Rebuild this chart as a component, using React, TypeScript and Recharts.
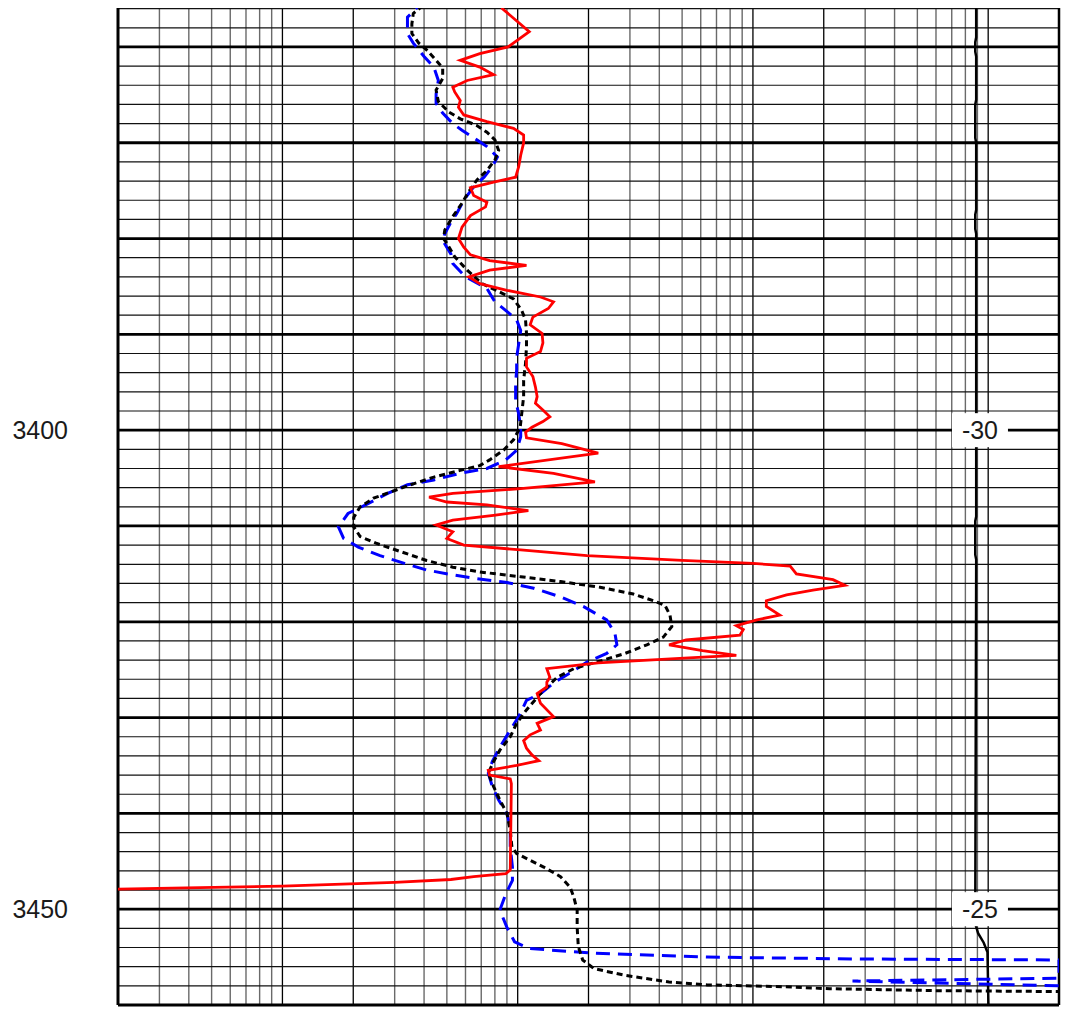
import { ScatterChart, Scatter, XAxis, YAxis, ReferenceLine, ReferenceDot } from 'recharts';

// depth (ft) / resistivity (ohm.m) pairs
const shallowRes: [number, number][] = [
  [3355.1, 8.9], [3356.0, 8.6], [3358.4, 11.2], [3360.0, 9.1], [3360.7, 6.9], [3361.4, 5.7],
  [3362.1, 6.9], [3362.9, 7.9], [3363.5, 6.1], [3364.2, 5.3], [3364.7, 5.4], [3365.6, 5.7],
  [3366.3, 5.6], [3367.1, 5.9], [3367.8, 7.4], [3368.5, 9.6], [3369.2, 10.6], [3370.0, 10.6],
  [3371.3, 10.3], [3372.5, 10.1], [3373.6, 9.8], [3374.1, 7.9], [3374.7, 6.3], [3375.5, 6.5],
  [3376.2, 7.4], [3376.7, 7.3], [3377.6, 6.3], [3378.8, 5.8], [3380.0, 5.6], [3380.9, 5.9],
  [3381.7, 6.3], [3382.3, 7.6], [3382.8, 10.9], [3383.3, 7.6], [3384.0, 6.2], [3384.7, 6.9],
  [3385.4, 9.0], [3386.1, 12.5], [3386.6, 14.2], [3387.3, 13.5], [3388.2, 11.6], [3389.0, 11.3],
  [3389.9, 12.7], [3390.9, 12.8], [3391.8, 12.5], [3392.5, 10.9], [3393.4, 10.9], [3394.4, 11.6],
  [3395.5, 11.9], [3396.5, 12.1], [3397.2, 11.9], [3397.9, 12.8], [3398.6, 13.7], [3399.1, 12.8],
  [3399.7, 11.5], [3400.2, 10.8], [3400.8, 10.9], [3401.4, 15.4], [3402.4, 22.0], [3403.8, 8.3],
  [3404.5, 14.2], [3405.4, 21.3], [3406.1, 10.3], [3406.6, 5.3], [3407.0, 4.2], [3407.5, 5.0],
  [3407.8, 7.4], [3408.4, 11.1], [3408.9, 7.9], [3409.4, 5.3], [3409.9, 4.5], [3410.6, 5.3],
  [3411.3, 5.0], [3412.0, 5.9], [3412.5, 10.3], [3413.1, 19.7], [3413.6, 50], [3413.9, 100],
  [3414.2, 144], [3415.0, 153], [3415.6, 219], [3416.2, 246], [3416.7, 180], [3417.2, 139],
  [3417.8, 114], [3418.4, 114], [3419.3, 130], [3419.8, 104], [3420.4, 85], [3420.8, 91],
  [3421.4, 88], [3421.9, 52], [3422.4, 44], [3423.0, 61], [3423.5, 85], [3423.8, 51],
  [3424.3, 22], [3424.9, 13.3], [3425.8, 13.7], [3426.3, 13.3], [3426.8, 13.3], [3427.5, 12.1],
  [3428.5, 12.5], [3429.9, 14.2], [3430.6, 12.1], [3431.3, 12.5], [3431.8, 11.3], [3432.4, 10.6],
  [3433.2, 10.9], [3433.9, 11.5], [3434.5, 12.3], [3435.0, 9.9], [3435.5, 7.5], [3436.0, 7.6],
  [3436.4, 9.3], [3436.9, 9.4], [3445.9, 9.3], [3446.3, 8.9], [3446.6, 6.5], [3446.9, 5.2],
  [3447.2, 3.0], [3447.6, 1.0], [3447.8, 0.34], [3447.9, 0.2],
];

const deepRes: [number, number][] = [
  [3355.1, 4.1], [3356.0, 3.7], [3356.9, 3.4], [3358.6, 3.4], [3359.6, 3.6], [3361.0, 4.0],
  [3362.1, 4.4], [3363.5, 4.6], [3364.9, 4.5], [3365.9, 4.5], [3366.9, 4.8], [3368.0, 5.3],
  [3368.7, 5.8], [3369.7, 6.7], [3370.4, 7.4], [3371.5, 8.2], [3372.5, 7.8], [3373.6, 7.2],
  [3374.4, 6.6], [3376.0, 5.9], [3377.4, 5.5], [3378.3, 5.2], [3379.5, 4.9], [3380.2, 4.8],
  [3381.6, 5.2], [3382.6, 5.3], [3384.0, 6.0], [3385.2, 7.4], [3386.6, 8.0], [3387.7, 9.1],
  [3388.5, 9.9], [3389.6, 10.3], [3391.0, 10.1], [3392.4, 9.9], [3393.7, 9.9], [3395.1, 9.8],
  [3396.9, 9.8], [3398.3, 10.1], [3399.7, 10.3], [3400.7, 10.3], [3402.1, 9.9], [3403.1, 8.9],
  [3404.0, 7.4], [3404.5, 5.7], [3405.2, 4.4], [3405.7, 3.4], [3406.6, 2.8], [3407.7, 2.3],
  [3408.7, 1.9], [3410.1, 1.73], [3411.3, 1.82], [3412.2, 2.1], [3413.1, 2.6], [3413.9, 3.3],
  [3414.6, 4.1], [3415.1, 5.3], [3415.5, 6.7], [3415.9, 9.0], [3416.5, 11.7], [3417.4, 15.2],
  [3418.4, 19.0], [3419.8, 23.9], [3421.2, 25.9], [3422.4, 26.4], [3423.3, 23.9], [3424.2, 19.7],
  [3425.1, 17.3], [3426.4, 14.2], [3427.5, 12.5], [3428.2, 10.9], [3429.9, 10.1], [3431.3, 9.3],
  [3433.1, 8.4], [3434.6, 7.8], [3435.8, 7.5], [3437.2, 7.8], [3438.6, 8.3], [3440.0, 9.0],
  [3441.4, 9.3], [3443.5, 9.3], [3445.6, 9.5], [3447.0, 9.5], [3448.4, 8.9], [3450.1, 8.4],
  [3451.9, 9.0], [3453.4, 9.7], [3454.1, 11.2], [3454.6, 21], [3455.0, 64], [3455.2, 285],
  [3455.3, 2000], [3457.2, 2000], [3457.5, 265], [3458.0, 2000],
];

const mediumRes: [number, number][] = [
  [3355.1, 4.3], [3355.8, 3.9], [3356.5, 3.6], [3357.6, 3.55], [3358.6, 3.55], [3359.6, 3.8],
  [3360.3, 4.1], [3361.4, 4.5], [3362.2, 4.8], [3363.3, 4.8], [3364.5, 4.5], [3365.7, 4.6],
  [3366.8, 5.1], [3367.5, 5.7], [3368.2, 6.7], [3368.9, 7.4], [3369.7, 8.0], [3370.8, 8.3],
  [3371.8, 8.0], [3372.9, 7.4], [3373.9, 6.7], [3375.1, 6.2], [3376.3, 5.8], [3377.7, 5.3],
  [3379.1, 4.9], [3380.0, 4.84], [3380.5, 5.0], [3381.9, 5.4], [3383.3, 6.1], [3384.7, 7.05],
  [3385.6, 8.4], [3386.3, 9.6], [3387.5, 10.4], [3388.5, 10.8], [3389.9, 10.9], [3391.3, 10.9],
  [3393.0, 10.8], [3394.8, 10.6], [3396.5, 10.6], [3398.3, 10.4], [3399.7, 10.25], [3401.0, 9.6],
  [3402.1, 8.7], [3403.1, 7.6], [3403.7, 6.9], [3404.2, 5.7], [3404.9, 4.4], [3405.6, 3.6],
  [3406.3, 3.0], [3407.1, 2.44], [3408.0, 2.14], [3409.1, 2.01], [3410.1, 2.01], [3411.1, 2.14],
  [3411.8, 2.5], [3412.7, 3.2], [3413.6, 4.1], [3414.3, 5.3], [3414.8, 6.9], [3415.3, 10.3],
  [3415.8, 15.2], [3416.4, 22.4], [3417.1, 31], [3417.8, 37.7], [3418.3, 42.3], [3419.3, 44.4],
  [3420.5, 45.2], [3421.6, 41.6], [3422.4, 35.4], [3423.3, 28.6], [3424.0, 23.1], [3424.9, 17.3],
  [3425.8, 14.7], [3427.5, 12.5], [3429.2, 10.9], [3430.6, 9.9], [3432.0, 9.3], [3433.4, 8.4],
  [3434.6, 7.9], [3435.8, 7.5], [3437.2, 7.9], [3438.6, 8.4], [3440.0, 9.0], [3441.8, 9.3],
  [3443.5, 9.45], [3444.2, 9.9], [3444.9, 11.3], [3445.6, 12.9], [3446.6, 15.2], [3447.7, 16.7],
  [3448.7, 17.3], [3450.1, 17.9], [3451.9, 17.9], [3453.9, 18.1], [3455.3, 18.9], [3456.2, 21.1],
  [3456.9, 28.5], [3457.6, 44], [3457.9, 64], [3458.1, 136], [3458.3, 212], [3458.5, 600],
  [3458.6, 2000],
];

// spontaneous potential (mV)
const spCurve: [number, number][] = [
  [3355.1, -28.8], [3359.0, -28.8], [3359.5, -28.9], [3360.5, -28.9], [3361.0, -28.8],
  [3365.5, -28.8], [3366.0, -28.9], [3369.5, -28.9], [3370.0, -28.8], [3377.0, -28.8],
  [3377.5, -28.9], [3379.0, -28.9], [3379.5, -28.8], [3409.0, -28.8], [3409.5, -28.9],
  [3413.0, -28.9], [3413.5, -28.8], [3451.5, -28.9], [3452.5, -28.6], [3453.5, -28.0],
  [3454.5, -27.6], [3460.0, -27.5],
];

const spLabels = [
  { depth: 3400, sp: -28.4, text: '-30' },
  { depth: 3450, sp: -28.4, text: '-25' },
];

const depthTicks = [3400, 3450];
const depthMajorGrid = [3360, 3370, 3380, 3390, 3400, 3410, 3420, 3430, 3440, 3450];
const depthMinorGrid = [
  3356, 3358, 3362, 3364, 3366, 3368, 3372, 3374, 3376, 3378, 3382, 3384, 3386, 3388,
  3392, 3394, 3396, 3398, 3402, 3404, 3406, 3408, 3412, 3414, 3416, 3418, 3422, 3424,
  3426, 3428, 3432, 3434, 3436, 3438, 3442, 3444, 3446, 3448, 3452, 3454, 3456, 3458,
];
const resMajorGrid = [1, 2, 10, 20, 100, 200, 1000];
const resMinorGrid = [
  0.3, 0.4, 0.5, 0.6, 0.7, 0.8, 0.9, 3, 4, 5, 6, 7, 8, 9,
  30, 40, 50, 60, 70, 80, 90, 300, 400, 500, 600, 700, 800, 900,
];

const toPoints = (rows: [number, number][]) => rows.map(([d, v]) => ({ d, v }));

const noDot = () => <g />;

const DepthTick = ({ y, payload }: any) => (
  <text x={68} y={y} dy={9} textAnchor="end" fontSize={25} fill="#1a1a1a"
    fontFamily="'Liberation Sans', Arial, sans-serif">
    {payload.value}
  </text>
);

const SpLabel = (text: string) => ({ cx, cy }: any) => (
  <g>
    <rect x={cx - 28} y={cy - 17} width={56} height={34} fill="#fff" />
    <text x={cx} y={cy + 9} textAnchor="middle" fontSize={25} fill="#1a1a1a"
      fontFamily="'Liberation Sans', Arial, sans-serif">
      {text}
    </text>
  </g>
);

export default function App() {
  return (
    <div style={{ margin: '-8px 0 0 -8px', width: 1076, height: 1009 }}>
      <ScatterChart width={1076} height={1009} margin={{ top: 0, right: 17, bottom: 4, left: 0 }}>
        <XAxis xAxisId="res" type="number" dataKey="v" scale="log" domain={[0.2, 2000]} allowDataOverflow hide />
        <XAxis xAxisId="sp" type="number" dataKey="v" domain={[-120, -20]} allowDataOverflow hide />
        <YAxis type="number" dataKey="d" domain={[3355.1, 3460]} reversed allowDataOverflow
          ticks={depthTicks} width={118} axisLine={false} tickLine={false} tick={<DepthTick />} />

        {resMinorGrid.map((v) => (
          <ReferenceLine key={'vm' + v} xAxisId="res" x={v} stroke="#6a6a6a" strokeWidth={1.4} />
        ))}
        {resMajorGrid.map((v) => (
          <ReferenceLine key={'vM' + v} xAxisId="res" x={v} stroke="#000" strokeWidth={1.3} />
        ))}
        {depthMinorGrid.map((d) => (
          <ReferenceLine key={'hm' + d} xAxisId="res" y={d} stroke="#111" strokeWidth={1.2} />
        ))}
        {depthMajorGrid.map((d) => (
          <ReferenceLine key={'hM' + d} xAxisId="res" y={d} stroke="#000" strokeWidth={2.8} />
        ))}
        <ReferenceLine xAxisId="res" x={0.2} stroke="#000" strokeWidth={3} />
        <ReferenceLine xAxisId="res" x={2000} stroke="#000" strokeWidth={2.5} />
        <ReferenceLine xAxisId="res" y={3460} stroke="#000" strokeWidth={3} />

        <Scatter xAxisId="sp" data={toPoints(spCurve)} shape={noDot} fill="#000"
          line={{ stroke: '#000', strokeWidth: 2.5 }} isAnimationActive={false} />
        <Scatter xAxisId="res" data={toPoints(deepRes)} shape={noDot} fill="#0000ff"
          line={{ stroke: '#0000ff', strokeWidth: 3, strokeDasharray: '14 8' }} isAnimationActive={false} />
        <Scatter xAxisId="res" data={toPoints(mediumRes)} shape={noDot} fill="#000"
          line={{ stroke: '#000', strokeWidth: 3, strokeDasharray: '6 4' }} isAnimationActive={false} />
        <Scatter xAxisId="res" data={toPoints(shallowRes)} shape={noDot} fill="#ff0000"
          line={{ stroke: '#ff0000', strokeWidth: 2.8 }} isAnimationActive={false} />

        {spLabels.map((l) => (
          <ReferenceDot key={l.text} xAxisId="sp" x={l.sp} y={l.depth} r={0} shape={SpLabel(l.text)} ifOverflow="visible" />
        ))}
      </ScatterChart>
    </div>
  );
}
